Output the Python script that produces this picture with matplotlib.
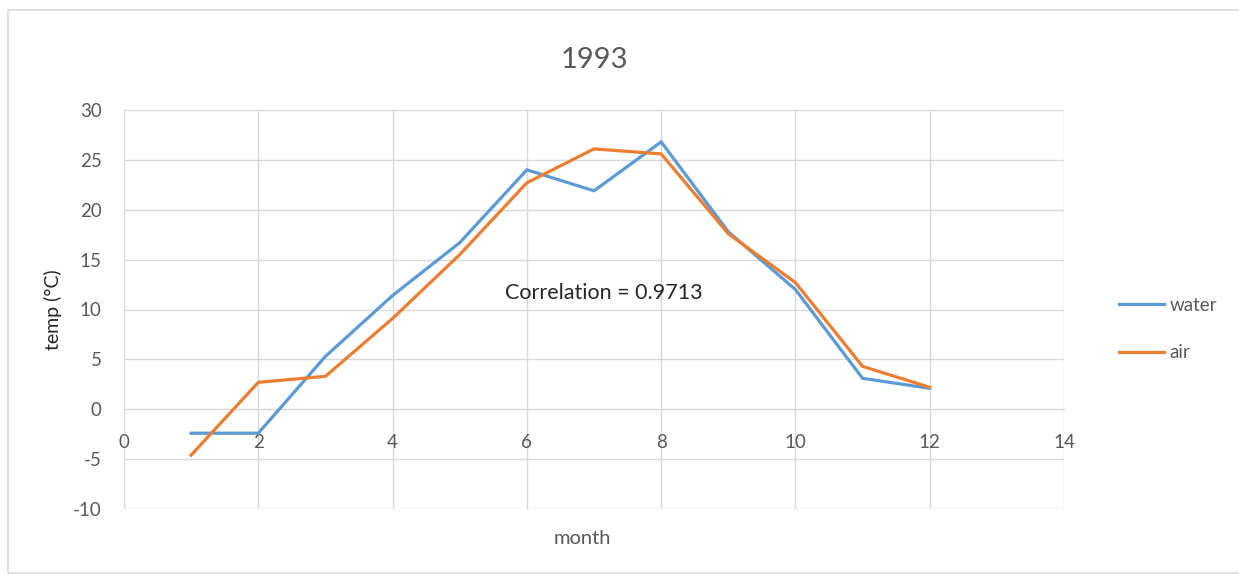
import matplotlib.pyplot as plt
from matplotlib.patches import Rectangle

# monthly mean temperatures, 1993
months = [1, 2, 3, 4, 5, 6, 7, 8, 9, 10, 11, 12]
water = [-2.4, -2.4, 5.3, 11.4, 16.7, 24.0, 21.9, 26.8, 17.8, 12.0, 3.1, 2.1]
air = [-4.6, 2.7, 3.3, 9.1, 15.5, 22.7, 26.1, 25.6, 17.6, 12.7, 4.3, 2.2]
correlation = 0.9713

plt.rcParams['font.family'] = ['Lato', 'DejaVu Sans']
plt.rcParams['axes.unicode_minus'] = False
grey = '#595959'

fig = plt.figure(figsize=(12.39, 5.74), dpi=100)
ax = fig.add_axes([124 / 1239, 65 / 574, 940 / 1239, 399 / 574])

ax.plot(months, water, color='#5B9BD5', lw=2.3, label='water', solid_joinstyle='miter')
ax.plot(months, air, color='#ED7D31', lw=2.3, label='air', solid_joinstyle='miter')

ax.set_xlim(0, 14)
ax.set_ylim(-10, 30)
ax.set_xticks(range(0, 15, 2))
ax.set_yticks(range(-10, 31, 5))
ax.grid(True, color='#d9d9d9', lw=1)
ax.set_axisbelow(True)

for side in ['top', 'right', 'left']:
    ax.spines[side].set_visible(False)
ax.spines['bottom'].set_position(('data', 0))
ax.spines['bottom'].set_color('#bfbfbf')
ax.spines['bottom'].set_zorder(0.5)

ax.tick_params(axis='both', length=0, labelsize=13.5, labelcolor=grey)
ax.tick_params(axis='x', pad=18)
ax.tick_params(axis='y', pad=16)

ax.set_title('1993', fontsize=21, color=grey, pad=30)
ax.set_ylabel('temp (°C)', fontsize=14, color='#262626', labelpad=8)
fig.text(582 / 1239, 1 - 538 / 574, 'month', fontsize=14.5, color=grey, ha='center', va='center')

ax.text(604 / 1239, 1 - 293 / 574, f'Correlation = {correlation}', transform=fig.transFigure,
        fontsize=15.5, color='#262626', ha='center', va='center')

fig.legend(loc='center left', bbox_to_anchor=(1102 / 1239, 1 - 329 / 574), frameon=False,
           fontsize=13.5, labelcolor=grey, handlelength=2.4, handletextpad=0.3, labelspacing=1.65)

fig.patches.append(Rectangle((8 / 1239, 1 / 574), 1.0, 563 / 574, transform=fig.transFigure,
                             fill=False, edgecolor='#d9d9d9', lw=1.2))

fig.savefig('out.png', dpi=100)
